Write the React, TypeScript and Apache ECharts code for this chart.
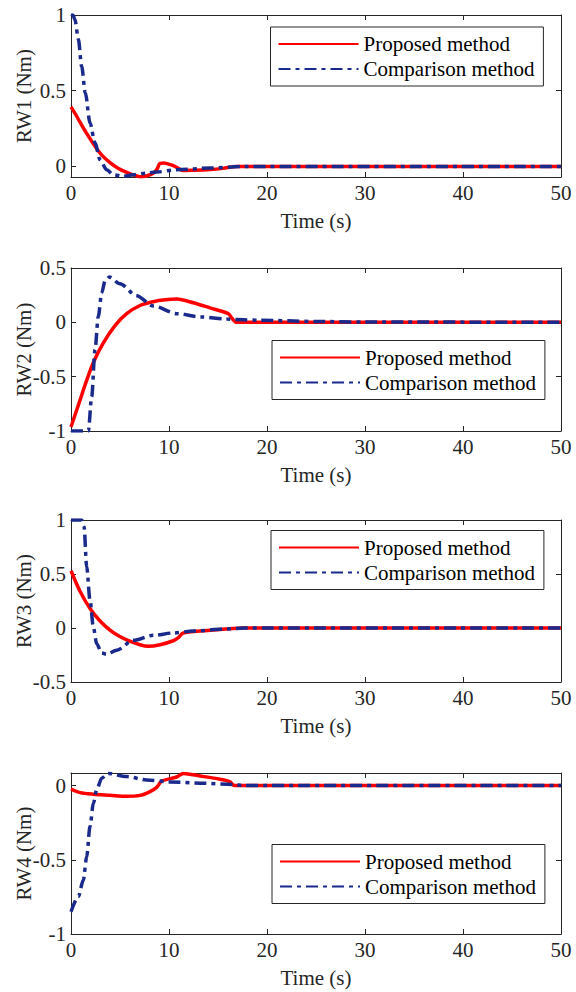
import React, { useEffect, useRef } from "react";
import * as echarts from "echarts";

// ---------- data ----------
const timeTicks = [0, 10, 20, 30, 40, 50];
const seriesNames = ["Proposed method", "Comparison method"];
const yLabels = ["RW1 (Nm)", "RW2 (Nm)", "RW3 (Nm)", "RW4 (Nm)"];
const yMins = [-0.07, -1, -0.5, -1];
const yMaxs = [1, 0.5, 1, 0.085];
const yTicks1 = [0, 0.5, 1];
const yTicks2 = [-1, -0.5, 0, 0.5];
const yTicks3 = [-0.5, 0, 0.5, 1];
const yTicks4 = [-1, -0.5, 0];

const rw1PropT = [0, 0.5, 0.92, 1.5, 2.28, 3, 3.98, 4.8, 5.68, 6.4, 7.04, 7.7, 8.4, 8.8, 9.08, 9.5, 9.8, 10.44, 11.0, 11.46, 12.5, 14.2, 15.5, 16.9, 18, 50];
const rw1PropV = [0.393, 0.34, 0.292, 0.228, 0.15, 0.085, 0.025, -0.012, -0.04, -0.058, -0.068, -0.063, -0.045, -0.015, 0.02, 0.022, 0.018, 0.005, -0.015, -0.027, -0.026, -0.021, -0.013, 0, 0, 0];
const rw1CompT = [0, 0.2, 0.4, 0.75, 1.09, 1.46, 1.94, 2.45, 2.96, 3.64, 4.32, 5.34, 6.36, 7.72, 8.74, 10.8, 14.2, 17.6, 50];
const rw1CompV = [1, 1.0, 0.97, 0.84, 0.66, 0.486, 0.287, 0.155, 0.044, -0.022, -0.055, -0.066, -0.055, -0.044, -0.037, -0.022, -0.011, 0, 0];

const rw2PropT = [0, 0.92, 1.5, 2.28, 3.3, 4.49, 5.68, 7.04, 8.4, 9.6, 10.78, 12.48, 14.18, 16.05, 16.4, 16.9, 50];
const rw2PropV = [-0.963, -0.716, -0.56, -0.37, -0.19, -0.03, 0.08, 0.155, 0.19, 0.207, 0.214, 0.18, 0.133, 0.08, 0.04, 0, 0];
const rw2CompT = [0, 1.77, 2.11, 2.45, 2.79, 3.13, 3.47, 3.91, 5, 6.7, 8.4, 10.8, 13.2, 15.9, 16.9, 19.3, 25, 30, 50];
const rw2CompV = [-1, -1, -0.685, -0.25, 0.056, 0.27, 0.38, 0.417, 0.355, 0.245, 0.15, 0.08, 0.05, 0.031, 0.025, 0.019, 0.008, 0.003, 0];

const rw3PropT = [0, 0.92, 1.94, 2.96, 3.98, 4.8, 5.68, 7.04, 7.89, 9.08, 10.44, 10.95, 11.46, 14.2, 17.6, 50];
const rw3PropV = [0.53, 0.34, 0.18, 0.065, -0.02, -0.07, -0.11, -0.155, -0.17, -0.155, -0.118, -0.09, -0.046, -0.021, 0, 0];
const rw3CompT = [0, 1.09, 1.33, 1.6, 1.94, 2.28, 2.62, 3.13, 3.64, 4.66, 6.36, 8.4, 10.44, 12.48, 15.9, 17.6, 50];
const rw3CompV = [1, 1, 0.94, 0.566, 0.257, 0.009, -0.145, -0.232, -0.244, -0.207, -0.114, -0.068, -0.046, -0.028, -0.009, 0, 0];

const rw4PropT = [0, 0.92, 2.28, 3.98, 5.68, 7.04, 8.06, 8.74, 9.25, 10.78, 11.46, 13.16, 15.2, 16.2, 16.7, 50];
const rw4PropV = [-0.024, -0.047, -0.058, -0.065, -0.072, -0.066, -0.04, -0.012, 0.03, 0.058, 0.082, 0.065, 0.043, 0.027, 0, 0];
const rw4CompT = [0, 0.75, 1.26, 1.6, 1.94, 2.28, 2.62, 3.13, 3.81, 5.68, 7.72, 10.1, 13.2, 16.6, 17.5, 50];
const rw4CompV = [-0.85, -0.748, -0.636, -0.479, -0.276, -0.119, -0.029, 0.05, 0.082, 0.061, 0.038, 0.025, 0.016, 0.007, 0, 0];

// ---------- layout / style ----------
const FONT = "Liberation Serif, Times New Roman, serif";
const AXIS_COLOR = "#262626";
const RED = "#ff0000";
const BLUE = "#1a2a8c";
const gridTops = [15, 268, 520, 773];
const gridHeights = [162, 163, 162, 161];
const legendTops = [27, 340.5, 530.5, 844.5];
const legendLefts = [270.5, 272, 271, 272];

const pairs = (t: number[], v: number[]) => t.map((x, i) => [x, v[i]]);

const panels = [
  { prop: pairs(rw1PropT, rw1PropV), comp: pairs(rw1CompT, rw1CompV), ticks: yTicks1 },
  { prop: pairs(rw2PropT, rw2PropV), comp: pairs(rw2CompT, rw2CompV), ticks: yTicks2 },
  { prop: pairs(rw3PropT, rw3PropV), comp: pairs(rw3CompT, rw3CompV), ticks: yTicks3 },
  { prop: pairs(rw4PropT, rw4PropV), comp: pairs(rw4CompT, rw4CompV), ticks: yTicks4 },
];

function buildOption() {
  const grid: any[] = [];
  const xAxis: any[] = [];
  const yAxis: any[] = [];
  const series: any[] = [];
  const legend: any[] = [];
  const axisLine = { show: true, onZero: false, lineStyle: { color: AXIS_COLOR, width: 1 } };
  const labelStyle = { fontSize: 21, color: AXIS_COLOR, fontFamily: FONT, fontWeight: "normal" };
  const tick = (vals?: number[]) => ({
    inside: true, length: 5, lineStyle: { color: AXIS_COLOR }, ...(vals ? { customValues: vals } : {}),
  });

  panels.forEach((p, i) => {
    grid.push({ left: 71, right: 15, top: gridTops[i], height: gridHeights[i], show: false });
    xAxis.push({
      gridIndex: i, type: "value", position: "bottom", min: 0, max: 50, interval: 10,
      axisLine, splitLine: { show: false }, axisTick: tick(timeTicks),
      axisLabel: { ...labelStyle, margin: 5, customValues: timeTicks },
      name: "Time (s)", nameLocation: "middle", nameGap: 33, nameMoveOverlap: false,
      nameTextStyle: { ...labelStyle },
    });
    xAxis.push({
      gridIndex: i, type: "value", position: "top", min: 0, max: 50, interval: 10,
      axisLine, splitLine: { show: false }, axisTick: tick(timeTicks),
      axisLabel: { show: false },
    });
    yAxis.push({
      gridIndex: i, type: "value", position: "left", min: yMins[i], max: yMaxs[i],
      axisLine, splitLine: { show: false }, axisTick: tick(p.ticks),
      axisLabel: { ...labelStyle, margin: 5, customValues: p.ticks },
      name: yLabels[i], nameLocation: "middle", nameGap: 37, nameMoveOverlap: false,
      nameTextStyle: { ...labelStyle },
    });
    yAxis.push({
      gridIndex: i, type: "value", position: "right", min: yMins[i], max: yMaxs[i],
      axisLine, splitLine: { show: false }, axisTick: tick(p.ticks),
      axisLabel: { show: false },
    });
    series.push({
      type: "line", name: seriesNames[0], xAxisIndex: 2 * i, yAxisIndex: 2 * i,
      data: p.prop, symbol: "none", smooth: 0.3,
      lineStyle: { color: RED, width: 3.5 }, itemStyle: { color: RED }, z: 2,
    });
    series.push({
      type: "line", name: seriesNames[1], xAxisIndex: 2 * i, yAxisIndex: 2 * i,
      data: p.comp, symbol: "none", smooth: 0.3, smoothMonotone: "x",
      lineStyle: { color: BLUE, width: 3.5, type: [12, 5, 4, 5] }, itemStyle: { color: BLUE }, z: 3,
    });
    legend.push({
      data: seriesNames, orient: "vertical", left: legendLefts[i], top: legendTops[i],
      itemWidth: 80, itemHeight: 14, itemGap: 1, selectedMode: false,
      itemStyle: { opacity: 0 },
      padding: [5, 9, 5, 7], borderColor: AXIS_COLOR, borderWidth: 1, backgroundColor: "#fff",
      textStyle: { fontSize: 21, fontFamily: FONT, color: "#000", lineHeight: 24 },
    });
  });

  return { animation: false, backgroundColor: "#fff", grid, xAxis, yAxis, series, legend };
}

export default function App() {
  const ref = useRef<HTMLDivElement>(null);
  useEffect(() => {
    if (!ref.current) return;
    const chart = echarts.init(ref.current, null, { renderer: "svg" });
    chart.setOption(buildOption() as any);
    return () => chart.dispose();
  }, []);
  return (
    <div
      ref={ref}
      style={{ position: "fixed", left: 0, top: 0, width: 576, height: 992, background: "#fff" }}
    />
  );
}
